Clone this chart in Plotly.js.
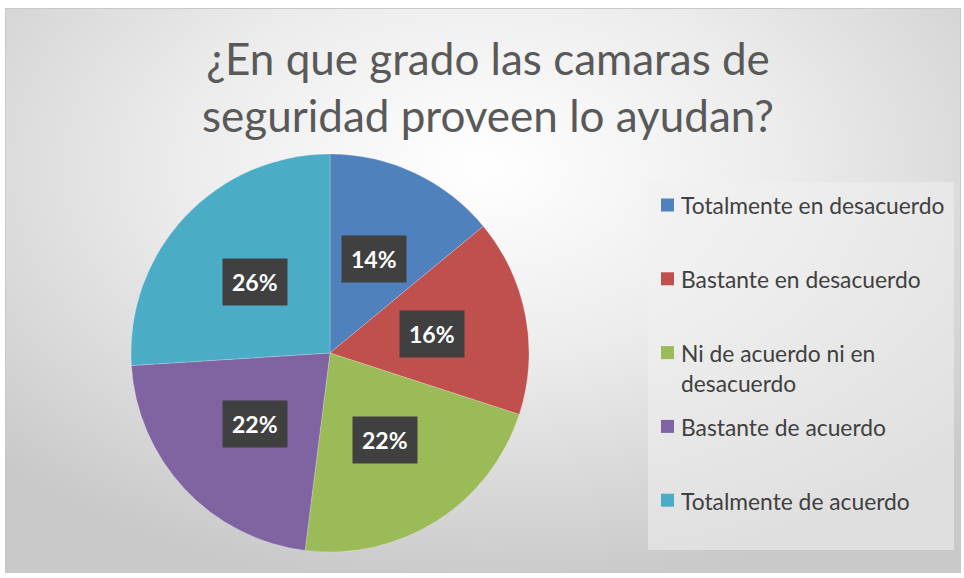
<!DOCTYPE html>
<html>
<head>
<meta charset="utf-8">
<script src="https://cdn.plot.ly/plotly-3.0.1.min.js"></script>
<style>
  html, body { margin:0; padding:0; background:#ffffff; width:964px; height:578px; overflow:hidden; }
  #frame { position:absolute; left:5px; top:8px; width:954px; height:563px;
    border:1px solid #c8c8c8;
    background: radial-gradient(ellipse 70% 75% at 50% 28%, #ffffff 0%, #ececec 45%, #d6d6d6 80%, #c9c9c9 100%); }
  #chart { position:absolute; left:0; top:0; width:964px; height:578px; }
</style>
</head>
<body>
<div id="frame"></div>
<div id="chart"></div>
<script>
const categories = [
  "Totalmente en desacuerdo",
  "Bastante en desacuerdo",
  "Ni de acuerdo ni en desacuerdo",
  "Bastante de acuerdo",
  "Totalmente de acuerdo"
];
const legendLabels = [
  "Totalmente en desacuerdo",
  "Bastante en desacuerdo",
  "Ni de acuerdo ni en<br>desacuerdo",
  "Bastante de acuerdo",
  "Totalmente de acuerdo"
];
const values = [14, 16, 22, 22, 26];
const colors = ["#4F81BD", "#C0504D", "#9BBB59", "#8064A2", "#4BACC6"];
const titleText = "¿En que grado las camaras de<br>seguridad proveen lo ayudan?";

const W = 964, H = 578;
const cx = 330, cy = 353, R = 199;
const FONT = "Lato, 'Open Sans', sans-serif";

const trace = {
  type: "pie",
  labels: categories,
  values: values,
  sort: false,
  direction: "clockwise",
  rotation: 0,
  textinfo: "none",
  hoverinfo: "label+percent",
  marker: { colors: colors, line: { color: "rgba(255,255,255,0.35)", width: 0.6 } },
  domain: { x: [(cx - R) / W, (cx + R) / W], y: [1 - (cy + R) / H, 1 - (cy - R) / H] },
  showlegend: false
};

// percentage labels with dark boxes, placed at slice mid-angles
const total = values.reduce((a, b) => a + b, 0);
const annotations = [];
let cum = 0;
values.forEach((v, i) => {
  const mid = (cum + v / 2) / total * 2 * Math.PI;
  cum += v;
  const r = R * 0.52;
  const px = cx + r * Math.sin(mid);
  const py = cy - r * Math.cos(mid);
  annotations.push({
    xref: "paper", yref: "paper", x: px / W, y: 1 - py / H,
    text: "<b>" + Math.round(v / total * 100) + "%</b>",
    showarrow: false,
    font: { family: FONT, size: 23, color: "#ffffff" },
    bgcolor: "#404040", borderpad: 9, xanchor: "center", yanchor: "middle"
  });
});

// custom legend (wide spacing like the original)
const shapes = [{
  type: "rect", xref: "paper", yref: "paper",
  x0: 648 / W, x1: 954 / W, y0: 1 - 550 / H, y1: 1 - 182 / H,
  fillcolor: "rgba(240,240,240,0.55)", line: { width: 0 }, layer: "below"
}];
const legTop = 205, legStep = 73.8;
legendLabels.forEach((lab, i) => {
  const yc = legTop + i * legStep;
  shapes.push({
    type: "rect", xref: "paper", yref: "paper",
    x0: 661 / W, x1: 674 / W, y0: 1 - (yc + 6.5) / H, y1: 1 - (yc - 6.5) / H,
    fillcolor: colors[i], line: { width: 0 }
  });
  annotations.push({
    xref: "paper", yref: "paper", x: 679 / W, y: 1 - (yc - 15.5) / H,
    text: lab, showarrow: false, align: "left",
    xanchor: "left", yanchor: "top",
    font: { family: FONT, size: 22.8, color: "#404040" }
  });
});

const layout = {
  width: W, height: H,
  margin: { l: 0, r: 0, t: 0, b: 0 },
  paper_bgcolor: "rgba(0,0,0,0)",
  plot_bgcolor: "rgba(0,0,0,0)",
  title: {
    text: titleText,
    font: { family: FONT, size: 44, color: "#595959" },
    x: 488 / W, xanchor: "center",
    y: 1 - 75 / H, yanchor: "middle", yref: "container"
  },
  annotations: annotations,
  shapes: shapes,
  showlegend: false
};

Plotly.newPlot("chart", [trace], layout, { displayModeBar: false, staticPlot: true });
</script>
</body>
</html>
